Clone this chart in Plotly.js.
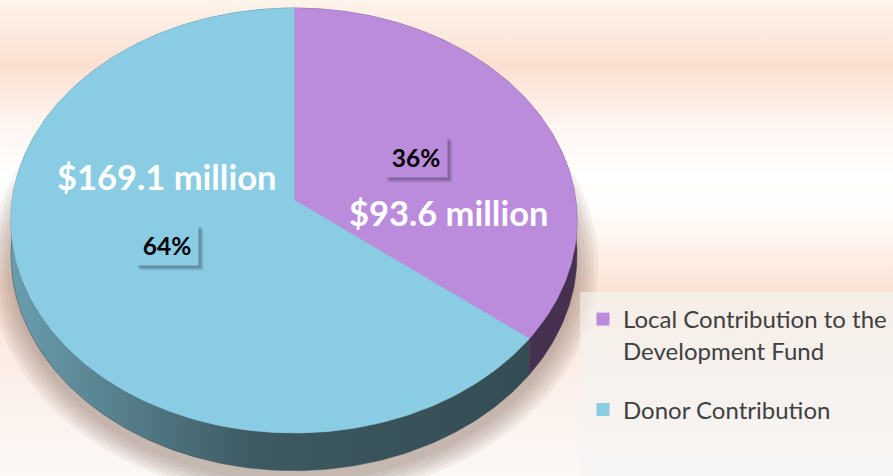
<!DOCTYPE html>
<html><head><meta charset="utf-8">
<script src="https://cdn.plot.ly/plotly-3.0.1.min.js"></script>
<style>
html,body{margin:0;padding:0;background:#fff;}
#chart{width:893px;height:476px;background:linear-gradient(to bottom,#fdf4ec 0px,#fce0d1 65px,#fef5f0 125px,#ffffff 175px,#fffcfa 215px,#fdefe6 255px,#fbe3d5 290px,#fbefe9 380px,#fcf8f6 476px);}
</style></head><body><div id="chart"></div>
<script>
// ---- data ----
const labels = ['Local Contribution to the<br>Development Fund', 'Donor Contribution'];
const values = [93.6, 169.1];
const unitText = ' million';

// ---- style / geometry (layout, not data) ----
const topColors = ['#bb8cdc', '#89cce4'];
const sideColors = [
  [[0,'#4e3a5e'],[1,'#45304f']],
  [[0,'#6a9dad'],[0.45,'#3d5961'],[1,'#344b52']]
];
const CX = 294, CY = 200, RX = 281.7, RY = 210.5, K = 0.0965, H = 34;
const W = 893, HT = 476;

function proj(deg, dz, s) {
  s = s || 1;
  const t = deg * Math.PI / 180;
  const u = Math.sin(t), v = -Math.cos(t), d = 1 - K * v;
  return [CX + s * RX * u / d, CY + s * RY * v / d + dz / d];
}
function arc(a0, a1, dz, s) {
  const pts = [];
  const n = Math.max(2, Math.ceil(Math.abs(a1 - a0)));
  for (let i = 0; i <= n; i++) pts.push(proj(a0 + (a1 - a0) * i / n, dz, s));
  return pts;
}

const total = values.reduce((a, b) => a + b, 0);
const angles = [];
let acc = 0;
values.forEach(v => { const a0 = acc / total * 360; acc += v; angles.push([a0, acc / total * 360]); });

const traces = [];
// soft shadow
const shadowLayers = [1.075, 1.06, 1.045, 1.03, 1.015, 1.0];
shadowLayers.forEach(s => {
  const p = arc(0, 360, H + 10, s);
  traces.push({x: p.map(q => q[0]), y: p.map(q => q[1]), mode: 'none', fill: 'toself',
    fillcolor: 'rgba(120,95,80,0.08)', hoverinfo: 'skip', showlegend: false});
});
// sides
[1, 0].forEach(i => {
  const [a0, a1] = angles[i];
  const p = arc(a0, a1, 0).concat(arc(a1, a0, H));
  traces.push({x: p.map(q => q[0]), y: p.map(q => q[1]), mode: 'lines', fill: 'toself',
    line: {width: 0.5, color: sideColors[i][sideColors[i].length - 1][1]},
    fillgradient: {type: 'horizontal', colorscale: sideColors[i], start: 12, stop: 560},
    hoverinfo: 'skip', showlegend: false});
});
// top faces
values.forEach((v, i) => {
  const [a0, a1] = angles[i];
  const p = [[CX, CY]].concat(arc(a0, a1, 0)).concat([[CX, CY]]);
  traces.push({x: p.map(q => q[0]), y: p.map(q => q[1]), mode: 'lines', fill: 'toself',
    fillcolor: topColors[i], line: {width: 0.6, color: topColors[i]},
    name: labels[i], hoverinfo: 'name', showlegend: false});
});
// legend entries
values.forEach((v, i) => {
  traces.push({x: [null], y: [null], mode: 'markers', name: labels[i], legendgroup: 'g' + i,
    marker: {symbol: 'square', size: 13, color: topColors[i]}});
});

const pct = values.map(v => Math.round(v / total * 100) + '%');
const money = values.map(v => '$' + v.toFixed(1) + unitText);
const boxPos = [[416, 157], [167, 245]];
const moneyPos = [[448, 212], [166, 176]];
const FONT = 'Lato, "Open Sans", sans-serif';

const annotations = [];
values.forEach((v, i) => {
  [[5, -5, 0.08], [4, -4, 0.1], [3, -3, 0.12], [2, -2, 0.12]].forEach(sh => {
    annotations.push({x: boxPos[i][0], y: boxPos[i][1], xref: 'x', yref: 'y', text: ' ', showarrow: false,
      xshift: sh[0], yshift: sh[1], width: 56, height: 34, borderpad: 3,
      bgcolor: 'rgba(30,30,50,' + sh[2] + ')', font: {family: FONT, size: 10, color: 'rgba(0,0,0,0)'}});
  });
  annotations.push({x: boxPos[i][0], y: boxPos[i][1], xref: 'x', yref: 'y', text: '<b>' + pct[i] + '</b>', showarrow: false,
    width: 56, height: 34, borderpad: 3, bgcolor: topColors[i], font: {family: FONT, size: 24.5, color: '#000000'}});
  annotations.push({x: moneyPos[i][0], y: moneyPos[i][1], xref: 'x', yref: 'y', text: '<b>' + money[i] + '</b>', showarrow: false,
    font: {family: FONT, size: 34.5, color: '#ffffff'}});
});

const layout = {
  width: W, height: HT,
  margin: {l: 0, r: 0, t: 0, b: 0},
  paper_bgcolor: 'rgba(0,0,0,0)', plot_bgcolor: 'rgba(0,0,0,0)',
  xaxis: {range: [0, W], visible: false, fixedrange: true},
  yaxis: {range: [HT, 0], visible: false, fixedrange: true},
  showlegend: true,
  legend: {x: 583 / W, y: 1 - 297 / HT, xanchor: 'left', yanchor: 'top', valign: 'top',
    bgcolor: 'rgba(0,0,0,0)', font: {family: FONT, size: 24, color: '#404040'}, tracegroupgap: 25, itemclick: false},
  shapes: [{type: 'rect', xref: 'paper', yref: 'paper', x0: 580 / W, x1: 1, y0: 0, y1: 1 - 292 / HT,
    fillcolor: 'rgba(244,243,242,0.6)', line: {width: 0}, layer: 'above'}],
  annotations: annotations
};
Plotly.newPlot('chart', traces, layout, {displayModeBar: false, staticPlot: true});
</script></body></html>
